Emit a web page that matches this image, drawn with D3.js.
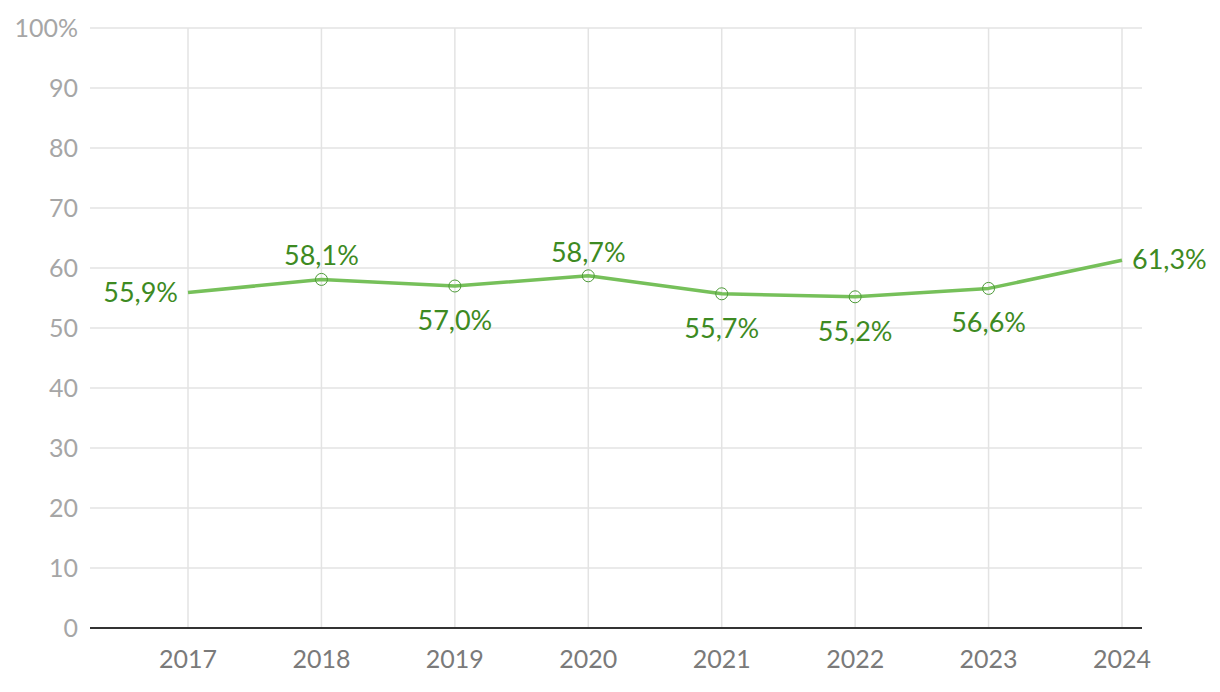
<!DOCTYPE html>
<html><head><meta charset="utf-8">
<script src="https://cdn.jsdelivr.net/npm/d3@7"></script>
<style>
html,body{margin:0;padding:0;background:#fff;}
svg{display:block;font-family:"Source Sans Pro",Lato,"Noto Sans",sans-serif;}
</style></head>
<body><svg id="chart" width="1220" height="692"></svg>
<script>
const years = ["2017","2018","2019","2020","2021","2022","2023","2024"];
const values = [55.9, 58.1, 57.0, 58.7, 55.7, 55.2, 56.6, 61.3];
const labelPos = ["left","above","below","above","below","below","below","right"];
const yTicks = [0,10,20,30,40,50,60,70,80,90,100];

(function(){
const svg = d3.select("#chart");
const pL = 90, pR = 1142, pT = 28, pB = 628;
const x = d3.scalePoint().domain(years).range([188, 1122]);
const y = d3.scaleLinear().domain([0,100]).range([pB, pT]);

// horizontal grid
svg.append("g").selectAll("line").data(yTicks.filter(d=>d>0)).join("line")
  .attr("x1", pL).attr("x2", pR)
  .attr("y1", d=>y(d)).attr("y2", d=>y(d))
  .attr("stroke", "#e3e3e3").attr("stroke-width", 1.5);
// vertical grid
svg.append("g").selectAll("line").data(years).join("line")
  .attr("x1", d=>x(d)).attr("x2", d=>x(d))
  .attr("y1", pT).attr("y2", pB)
  .attr("stroke", "#e3e3e3").attr("stroke-width", 1.5);

// y labels
svg.append("g").selectAll("text").data(yTicks).join("text")
  .attr("x", 78).attr("y", d=>y(d)).attr("dy", "0.36em")
  .attr("text-anchor", "end").attr("font-size", 25).attr("fill", "#a6a6a6")
  .text(d => d === 100 ? "100%" : d);

// x labels
svg.append("g").selectAll("text").data(years).join("text")
  .attr("x", d=>x(d)).attr("y", 668)
  .attr("text-anchor", "middle").attr("font-size", 25).attr("fill", "#7a7a7a")
  .text(d=>d);

// axis baseline
svg.append("line").attr("x1", pL).attr("x2", pR)
  .attr("y1", pB).attr("y2", pB)
  .attr("stroke", "#333").attr("stroke-width", 2);

const data = years.map((yr,i)=>({yr, v:values[i], pos:labelPos[i], i}));

// line
svg.append("path").datum(data)
  .attr("d", d3.line().x(d=>x(d.yr)).y(d=>y(d.v)))
  .attr("fill", "none").attr("stroke", "#76c05a").attr("stroke-width", 3.5)
  .attr("stroke-linejoin", "round");

// markers (not at endpoints)
svg.append("g").selectAll("circle").data(data.filter(d=>d.i>0 && d.i<data.length-1)).join("circle")
  .attr("cx", d=>x(d.yr)).attr("cy", d=>y(d.v)).attr("r", 6)
  .attr("fill", "none").attr("stroke", "#4d9a38").attr("stroke-width", 1);

// labels
const fmt = v => v.toFixed(1).replace(".", ",") + "%";
svg.append("g").selectAll("text").data(data).join("text")
  .attr("font-size", 27).attr("fill", "#3d8a22")
  .attr("x", d => d.pos==="left" ? x(d.yr)-10 : d.pos==="right" ? x(d.yr)+10 : x(d.yr))
  .attr("y", d => d.pos==="above" ? y(d.v)-14 : d.pos==="below" ? y(d.v)+44 : y(d.v)+9)
  .attr("text-anchor", d => d.pos==="left" ? "end" : d.pos==="right" ? "start" : "middle")
  .text(d=>fmt(d.v));
})();
</script></body></html>
